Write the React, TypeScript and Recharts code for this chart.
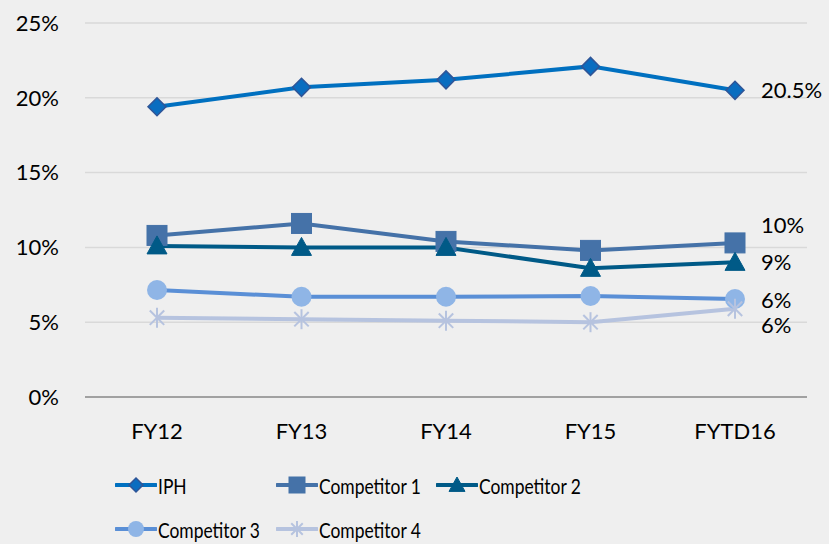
import React from 'react';
import { LineChart, Line, XAxis, YAxis, CartesianGrid, LabelList } from 'recharts';

document.body.style.margin = '0';

const years = ['FY12', 'FY13', 'FY14', 'FY15', 'FYTD16'];
const iph = [19.4, 20.7, 21.2, 22.1, 20.5];
const comp1 = [10.8, 11.6, 10.4, 9.8, 10.3];
const comp2 = [10.1, 10.0, 10.0, 8.6, 9.0];
const comp3 = [7.15, 6.7, 6.7, 6.75, 6.55];
const comp4 = [5.3, 5.2, 5.1, 5.0, 5.9];
const endLabels = ['20.5%', '10%', '9%', '6%', '6%'];
const yTicks = [0, 5, 10, 15, 20, 25];

const FONT = 'Lato, "Open Sans", sans-serif';
const FS = 22;

const data = years.map((y, i) => ({
  year: y,
  iph: iph[i],
  c1: comp1[i],
  c2: comp2[i],
  c3: comp3[i],
  c4: comp4[i],
}));

type Shape = 'diamond' | 'square' | 'triangle' | 'circle' | 'star';

const series: Array<{ key: string; name: string; line: string; fill: string; stroke: string; shape: Shape; labelDy: number }> = [
  { key: 'iph', name: 'IPH', line: '#0070C0', fill: '#0A6DC0', stroke: '#2F5597', shape: 'diamond', labelDy: 0 },
  { key: 'c1', name: 'Competitor 1', line: '#4572A8', fill: '#4572A8', stroke: '#4572A8', shape: 'square', labelDy: -18 },
  { key: 'c2', name: 'Competitor 2', line: '#005A87', fill: '#005A87', stroke: '#005A87', shape: 'triangle', labelDy: 0 },
  { key: 'c3', name: 'Competitor 3', line: '#5A8FD6', fill: '#8FB5E6', stroke: '#8FB5E6', shape: 'circle', labelDy: 1 },
  { key: 'c4', name: 'Competitor 4', line: '#B6C3DF', fill: '#B6C3DF', stroke: '#B6C3DF', shape: 'star', labelDy: 17 },
];

function Marker({ cx, cy, shape, fill, stroke, s }: { cx: number; cy: number; shape: Shape; fill: string; stroke: string; s: number }) {
  if (shape === 'diamond') {
    return <polygon points={`${cx},${cy - s} ${cx + s},${cy} ${cx},${cy + s} ${cx - s},${cy}`} fill={fill} stroke={stroke} strokeWidth={1.5} />;
  }
  if (shape === 'square') {
    return <rect x={cx - s} y={cy - s} width={2 * s} height={2 * s} fill={fill} stroke={stroke} />;
  }
  if (shape === 'triangle') {
    return <polygon points={`${cx},${cy - s} ${cx + s},${cy + s * 0.8} ${cx - s},${cy + s * 0.8}`} fill={fill} stroke={stroke} />;
  }
  if (shape === 'circle') {
    return <circle cx={cx} cy={cy} r={s} fill={fill} />;
  }
  const d = s * 0.72;
  return (
    <g stroke={stroke} strokeWidth={2}>
      <line x1={cx} y1={cy - s} x2={cx} y2={cy + s} />
      <line x1={cx - d} y1={cy - d} x2={cx + d} y2={cy + d} />
      <line x1={cx - d} y1={cy + d} x2={cx + d} y2={cy - d} />
    </g>
  );
}

function LegendBox() {
  return (
    <div style={{ position: 'absolute', left: 115, top: 463, width: 490, display: 'flex', flexWrap: 'wrap', fontFamily: FONT, fontSize: 21, color: '#000' }}>
      {series.map((s) => (
        <div key={s.key} style={{ width: 160.5, height: 44, display: 'flex', alignItems: 'center', whiteSpace: 'nowrap' }}>
          <svg width={42} height={24} style={{ flex: 'none' }}>
            <line x1={1} y1={12} x2={41} y2={12} stroke={s.line} strokeWidth={4} strokeLinecap="round" />
            <Marker cx={21} cy={12} shape={s.shape} fill={s.fill} stroke={s.stroke} s={s.shape === 'diamond' ? 7 : 8} />
          </svg>
          <span style={{ marginLeft: 1, display: 'inline-block', transform: 'scaleX(0.83)', transformOrigin: 'left center' }}>{s.name}</span>
        </div>
      ))}
    </div>
  );
}

export default function App() {
  return (
    <div style={{ position: 'relative', width: 829, height: 544, background: '#EFEFEF' }}>
      <LineChart width={829} height={465} data={data} margin={{ top: 23, right: 22, left: 0, bottom: 28 }}>
        <CartesianGrid vertical={false} stroke="#D9D9D9" strokeWidth={1.5} />
        <XAxis
          dataKey="year"
          padding={{ left: 72, right: 72 }}
          axisLine={{ stroke: '#8C8C8C', strokeWidth: 1.5 }}
          tickLine={false}
          tickMargin={20}
          height={40}
          tick={{ fontSize: FS, fontFamily: FONT, fill: '#000' }}
        />
        <YAxis
          width={85}
          domain={[0, 25]}
          ticks={yTicks}
          axisLine={false}
          tickLine={false}
          tickSize={0}
          tickMargin={26}
          tickFormatter={(v) => `${v}%`}
          tick={{ fontSize: FS, fontFamily: FONT, fill: '#000' }}
        />
        {series.map((s, si) => (
          <Line
            key={s.key}
            dataKey={s.key}
            name={s.name}
            stroke={s.line}
            strokeWidth={4}
            isAnimationActive={false}
            dot={(p: any) => (
              <Marker key={`${s.key}-${p.index}`} cx={p.cx} cy={p.cy} shape={s.shape} fill={s.fill} stroke={s.stroke} s={s.shape === 'diamond' ? 9 : 10} />
            )}
            activeDot={false}
          >
            <LabelList
              dataKey={s.key}
              content={(p: any) =>
                p.index === years.length - 1 ? (
                  <text x={p.x + 26} y={p.y + s.labelDy} dy="0.35em" fontSize={FS} fontFamily={FONT} fill="#000">
                    {endLabels[si]}
                  </text>
                ) : null
              }
            />
          </Line>
        ))}
      </LineChart>
      <LegendBox />
    </div>
  );
}
